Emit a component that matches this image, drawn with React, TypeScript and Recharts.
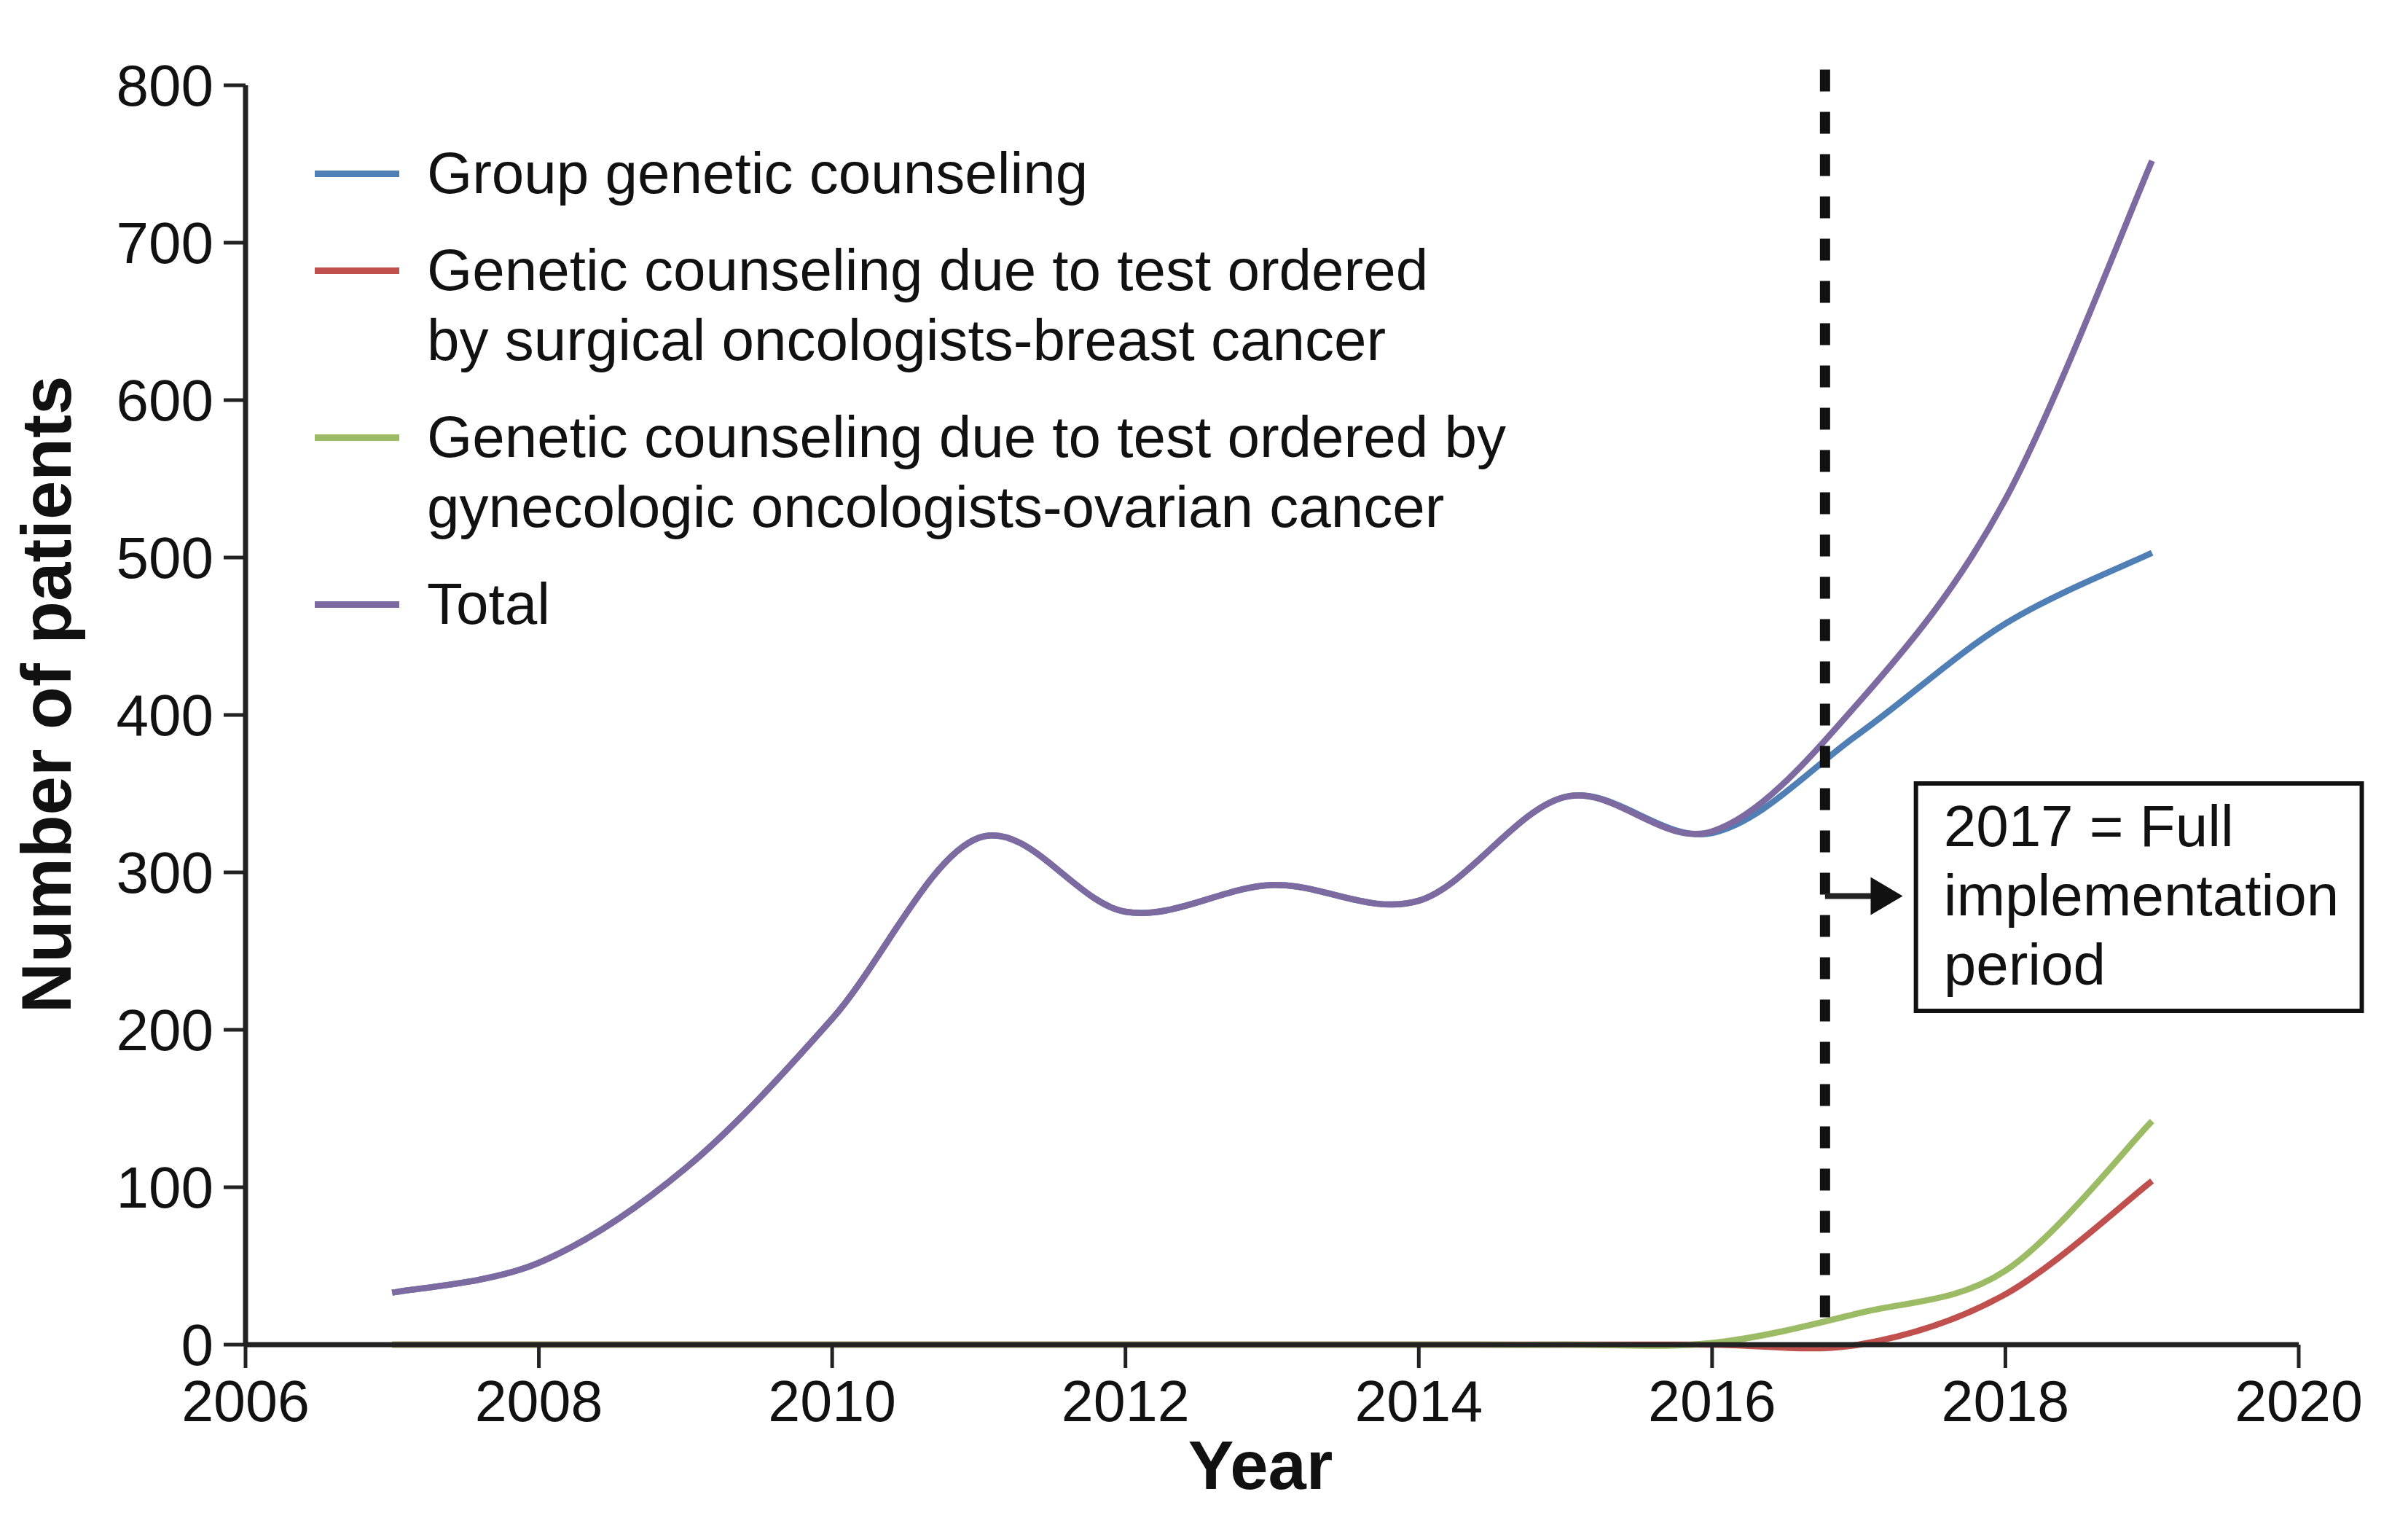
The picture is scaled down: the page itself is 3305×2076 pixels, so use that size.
import React from "react";
import {
  Label,
  Legend,
  Line,
  LineChart,
  ReferenceArea,
  ReferenceLine,
  XAxis,
  YAxis,
} from "recharts";

const FONT = '"Liberation Sans", Arial, sans-serif';

const years = [2007, 2008, 2009, 2010, 2011, 2012, 2013, 2014, 2015, 2016, 2017, 2018, 2019];
const groupCounseling = [33, 52, 112, 207, 322, 275, 292, 282, 348, 325, 388, 458, 503];
const surgicalBreast = [0, 0, 0, 0, 0, 0, 0, 0, 0, 0, 0, 32, 104];
const gynecologicOvarian = [0, 0, 0, 0, 0, 0, 0, 0, 0, 1, 20, 47, 142];
const totalPatients = [33, 52, 112, 207, 322, 275, 292, 282, 348, 326, 408, 537, 752];

const xTicks = [2006, 2008, 2010, 2012, 2014, 2016, 2018, 2020];
const yTicks = [0, 100, 200, 300, 400, 500, 600, 700, 800];

const seriesNames = [
  "Group genetic counseling",
  "Genetic counseling due to test ordered\nby surgical oncologists-breast cancer",
  "Genetic counseling due to test ordered by\ngynecologic oncologists-ovarian cancer",
  "Total",
];
const seriesKeys = ["group", "breast", "ovarian", "total"];
const seriesColors = ["#4f7fb4", "#c0504d", "#9bbb64", "#7d6aa0"];

// annotation: full implementation marker and text box (data units)
const implementationYear = 2016.77;
const markerRange = [13, 810];
const arrowValue = 285;
const arrowEndYear = 2017.3;
const boxYears = [2017.39, 2020.43];
const boxValues = [212, 356.5];
const boxLines = ["2017 = Full", "implementation", "period"];

const data = years.map((year, i) => ({
  year,
  group: groupCounseling[i],
  breast: surgicalBreast[i],
  ovarian: gynecologicOvarian[i],
  total: totalPatients[i],
}));

// Excel-style smoothing (uniform Catmull-Rom as cubic beziers)
const smoothCurve = (context: any) => {
  let pts: number[][] = [];
  return {
    areaStart() {},
    areaEnd() {},
    lineStart() {
      pts = [];
    },
    point(x: number, y: number) {
      pts.push([+x, +y]);
    },
    lineEnd() {
      if (!pts.length) return;
      context.moveTo(pts[0][0], pts[0][1]);
      for (let i = 0; i < pts.length - 1; i++) {
        const p0 = pts[Math.max(i - 1, 0)];
        const p1 = pts[i];
        const p2 = pts[i + 1];
        const p3 = pts[Math.min(i + 2, pts.length - 1)];
        context.bezierCurveTo(
          p1[0] + (p2[0] - p0[0]) / 6,
          p1[1] + (p2[1] - p0[1]) / 6,
          p2[0] - (p3[0] - p1[0]) / 6,
          p2[1] - (p3[1] - p1[1]) / 6,
          p2[0],
          p2[1]
        );
      }
    },
  };
};

const renderLegend = () => (
  <div style={{ fontFamily: FONT, fontSize: 80, lineHeight: "96px", color: "#111" }}>
    {seriesNames.map((name, i) => (
      <div key={name} style={{ display: "flex", alignItems: "flex-start", marginTop: i ? 37 : 0 }}>
        <div
          style={{
            width: 116,
            height: 9,
            background: seriesColors[i],
            marginTop: 44,
            marginRight: 38,
            flexShrink: 0,
          }}
        />
        <div style={{ whiteSpace: "pre" }}>{name}</div>
      </div>
    ))}
  </div>
);

const YTitle = (props: any) => {
  const { x, y, height } = props.viewBox;
  const cx = x + 55;
  const cy = y + height / 2 - 28;
  return (
    <text
      x={cx}
      y={cy}
      transform={`rotate(-90, ${cx}, ${cy})`}
      textAnchor="middle"
      dominantBaseline="central"
      fontFamily={FONT}
      fontWeight="bold"
      fontSize={96}
      fill="#111"
    >
      Number of patients
    </text>
  );
};

const XTitle = (props: any) => {
  const { x, y, width } = props.viewBox;
  return (
    <text
      x={x + width / 2 - 16}
      y={y + 198}
      textAnchor="middle"
      fontFamily={FONT}
      fontWeight="bold"
      fontSize={94}
      fill="#111"
    >
      Year
    </text>
  );
};

const BoxText = (props: any) => {
  const { x, y } = props.viewBox;
  return (
    <g>
      {boxLines.map((line, i) => (
        <text
          key={line}
          x={x + 38}
          y={y + 86 + i * 95}
          fontFamily={FONT}
          fontSize={80}
          fill="#111"
        >
          {line}
        </text>
      ))}
    </g>
  );
};

const Arrow = (props: any) => {
  const { x1, y1, x2 } = props;
  return (
    <g>
      <line x1={x1} y1={y1} x2={x2 - 40} y2={y1} stroke="#222" strokeWidth={8} />
      <polygon points={`${x2 - 44},${y1 - 26} ${x2},${y1} ${x2 - 44},${y1 + 26}`} fill="#111" />
    </g>
  );
};

export default function App() {
  return (
    <div style={{ fontFamily: FONT }}>
      <LineChart
        width={3289}
        height={2060}
        data={data}
        margin={{ top: 109, right: 142, bottom: 0, left: 0 }}
      >
        <XAxis
          dataKey="year"
          type="number"
          domain={[2006, 2020]}
          ticks={xTicks}
          height={223}
          tickSize={32}
          tickMargin={17}
          axisLine={{ stroke: "#222", strokeWidth: 7 }}
          tickLine={{ stroke: "#222", strokeWidth: 5 }}
          tick={{ fontSize: 79, fill: "#111", fontFamily: FONT }}
        >
          <Label content={XTitle} />
        </XAxis>
        <YAxis
          type="number"
          domain={[0, 800]}
          ticks={yTicks}
          width={329}
          tickSize={30}
          tickMargin={14}
          axisLine={{ stroke: "#222", strokeWidth: 7 }}
          tickLine={{ stroke: "#222", strokeWidth: 5 }}
          tick={{ fontSize: 80, fill: "#111", fontFamily: FONT }}
        >
          <Label content={YTitle} />
        </YAxis>
        <Legend
          layout="vertical"
          align="center"
          verticalAlign="middle"
          content={renderLegend}
          wrapperStyle={{ left: 424, top: 182, width: 1900 }}
        />
        {seriesKeys.map((key, i) => (
          <Line
            key={key}
            dataKey={key}
            name={seriesNames[i]}
            type={smoothCurve as any}
            stroke={seriesColors[i]}
            strokeWidth={8.5}
            dot={false}
            activeDot={false}
            isAnimationActive={false}
          />
        ))}
        <ReferenceLine
          segment={[
            { x: implementationYear, y: markerRange[1] },
            { x: implementationYear, y: markerRange[0] },
          ]}
          stroke="#111"
          strokeWidth={14}
          strokeDasharray="30 28"
          ifOverflow="visible"
        />
        <ReferenceLine
          segment={[
            { x: implementationYear, y: arrowValue },
            { x: arrowEndYear, y: arrowValue },
          ]}
          shape={Arrow}
          ifOverflow="visible"
        />
        <ReferenceArea
          x1={boxYears[0]}
          x2={boxYears[1]}
          y1={boxValues[0]}
          y2={boxValues[1]}
          fill="#fff"
          fillOpacity={1}
          stroke="#111"
          strokeWidth={6}
          ifOverflow="visible"
          label={BoxText}
        />
      </LineChart>
    </div>
  );
}
